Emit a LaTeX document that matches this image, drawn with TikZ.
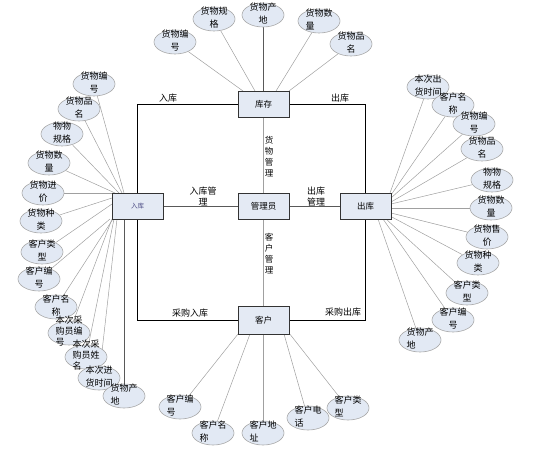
\documentclass[tikz,border=0pt]{standalone}
\usepackage{fontspec}
\setmainfont{Noto Sans CJK SC}
\usetikzlibrary{shapes.geometric,backgrounds}
\definecolor{boxfill}{HTML}{E4EAF4}
\definecolor{ellfill}{HTML}{E2E9F4}
\definecolor{ellline}{HTML}{A8A8A8}
\definecolor{attline}{HTML}{A0A0A0}
\newcommand\mltext[2][13pt]{\raisebox{-3pt}{\smash{\makebox[0pt]{\fontsize{9}{#1}\selectfont\begin{tabular}{@{}c@{}}#2\end{tabular}}}}}
\newcommand\mltextl[2][13pt]{\raisebox{-3pt}{\smash{\makebox[0pt]{\fontsize{9}{#1}\selectfont\begin{tabular}{@{}l@{}}#2\end{tabular}}}}}
\tikzset{
 ent/.style={rectangle, draw=black!80, line width=0.8pt, fill=boxfill, minimum width=51pt, minimum height=26pt, inner sep=0pt, font=\fontsize{8.5}{10}\selectfont},
 att/.style={ellipse, draw=ellline, line width=0.6pt, fill=ellfill, minimum width=42pt, minimum height=24pt, inner sep=0pt},
 al/.style={draw=attline, line width=0.5pt},
 dl/.style={draw=black!65, line width=0.7pt},
 frameline/.style={draw=black, line width=0.8pt},
 lbl/.style={font=\fontsize{9}{11}\selectfont, inner sep=0pt, align=center},
}
\begin{document}
\begin{tikzpicture}[x=1pt,y=-1pt]
\useasboundingbox (0,0) rectangle (545,471);
% entities
\node[ent] (kc) at (263.5,104.5) {库存};
\node[ent, font=\fontsize{6.5}{8}\selectfont, text=black!45!blue!40!gray] (rk) at (137.5,206) {入库};
\node[ent] (gl) at (263.5,206) {管理员};
\node[ent] (ck) at (365.5,206) {出库};
\node[ent, minimum height=28pt] (kh) at (263.5,320) {客户};
% labels
\node[lbl] (l1) at (168,98) {入库};
\node[lbl] (l2) at (340,98) {出库};
\node[lbl] (l3) at (203,196.5) {入库管\\理};
\node[lbl] (l4) at (316,196.5) {出库\\管理};
\node[lbl] (l5) at (190,313) {采购入库};
\node[lbl] (l6) at (343,312) {采购出库};
\node[lbl, font=\fontsize{8.5}{11}\selectfont] (l7) at (269,156.5) {货\\物\\管\\理};
\node[lbl, font=\fontsize{8.5}{11}\selectfont] (l8) at (269,254) {客\\户\\管\\理};
% top attributes
\node[att] (t1) at (175,42) {\mltext{货物编\\号}};
\node[att] (t2) at (214,19) {\mltext{货物规\\格}};
\node[att] (t3) at (263,15) {\mltext{货物产\\地}};
\node[att] (t4) at (319,21) {\mltextl{货物数\\量}};
\node[att] (t5) at (351,44) {\mltext{货物品\\名}};
% left attributes
\node[att] (a1) at (94,84) {\mltext{货物编\\号}};
\node[att] (a2) at (79,109) {\mltext{货物品\\名}};
\node[att] (a3) at (62,134) {\mltext{物物\\规格}};
\node[att] (a4) at (49,163) {\mltext{货物数\\量}};
\node[att] (a5) at (43,193) {\mltext{货物进\\价}};
\node[att] (a6) at (41,221) {\mltext{货物种\\类}};
\node[att] (a7) at (42,252) {\mltext{客户类\\型}};
\node[att] (a8) at (39,279) {\mltext{客户编\\号}};
\node[att] (a9) at (56,307) {\mltext{客户名\\称}};
\node[att] (a10) at (69,333) {\mltextl[11pt]{本次采\\购员编\\号}};
\node[att] (a11) at (86,357) {\mltextl[11pt]{本次采\\购员姓\\名}};
\node[att] (a12) at (99,378) {\mltext{本次进\\货时间}};
\node[att] (a13) at (124,396) {\mltextl{货物产\\地}};
% right attributes
\node[att] (b1) at (428,87) {\mltext{本次出\\货时间}};
\node[att] (b2) at (453,105) {\mltext{客户名\\称}};
\node[att] (b3) at (474,124) {\mltext{货物编\\号}};
\node[att] (b4) at (482,149) {\mltext{货物品\\名}};
\node[att] (b5) at (492,180) {\mltext{物物\\规格}};
\node[att] (b6) at (491,208) {\mltext{货物数\\量}};
\node[att] (b7) at (487,237) {\mltext{货物售\\价}};
\node[att] (b8) at (478,263) {\mltext{货物种\\类}};
\node[att] (b9) at (467,293) {\mltext{客户类\\型}};
\node[att] (b10) at (453,320) {\mltext{客户编\\号}};
\node[att] (b11) at (420,340) {\mltextl{货物产\\地}};
% bottom attributes
\node[att] (d1) at (180,407) {\mltextl{客户编\\号}};
\node[att] (d2) at (213,433) {\mltextl{客户名\\称}};
\node[att] (d3) at (263,433) {\mltextl{客户地\\址}};
\node[att] (d4) at (308,418) {\mltextl{客户电\\话}};
\node[att] (d5) at (348,408) {\mltextl{客户类\\型}};
% anchor coordinates
\coordinate (ct1) at (243,91);
\coordinate (ct2) at (255,91);
\coordinate (ct3) at (263,91);
\coordinate (ct4) at (276,91);
\coordinate (ct5) at (289,91);
\coordinate (ca1) at (124,193);
\coordinate (ca2) at (122,193);
\coordinate (ca3) at (119,193);
\coordinate (ca4) at (115,193);
\coordinate (ca5) at (112,193);
\coordinate (ca6) at (112,198);
\coordinate (ca7) at (112,204);
\coordinate (ca8) at (110,219);
\coordinate (ca9) at (113,219);
\coordinate (ca10) at (112,219);
\coordinate (ca11) at (114,219);
\coordinate (ca12) at (117,219);
\coordinate (ca13) at (124,219);
\coordinate (cb1) at (390,193);
\coordinate (cb2) at (391,195);
\coordinate (cb3) at (391,198);
\coordinate (cb4) at (391,202);
\coordinate (cb5) at (391,204);
\coordinate (cb6) at (391,208);
\coordinate (cb7) at (391,213);
\coordinate (cb8) at (390,216);
\coordinate (cb9) at (386,219);
\coordinate (cb10) at (383,219);
\coordinate (cb11) at (378,219);
\coordinate (cd1) at (238,334);
\coordinate (cd2) at (250,334);
\coordinate (cd3) at (263,334);
\coordinate (cd4) at (284,334);
\coordinate (cd5) at (289,333);
\begin{scope}[on background layer]
 \draw[frameline] (kc.west) -| (rk.north);
 \draw[frameline] (kc.east) -| (ck.north);
 \draw[frameline] (rk.south) |- (kh.west);
 \draw[frameline] (ck.south) |- (kh.east);
 \draw[dl] (rk.east) -- (gl.west);
 \draw[dl] (gl.east) -- (ck.west);
 \draw[al] (kc.south) -- (gl.north);
 \draw[al] (gl.south) -- (kh.north);
 \foreach \i in {1,2,4,5} \draw[al] (t\i) -- (ct\i);
 \draw[dl] (t3) -- (ct3);
 \foreach \i in {1,...,12} \draw[al] (a\i) -- (ca\i);
 \draw[dl] (a13) -- (ca13);
 \foreach \i in {1,...,11} \draw[al] (b\i) -- (cb\i);
 \foreach \i in {1,...,5} \draw[al] (d\i) -- (cd\i);
\end{scope}
\end{tikzpicture}
\end{document}
